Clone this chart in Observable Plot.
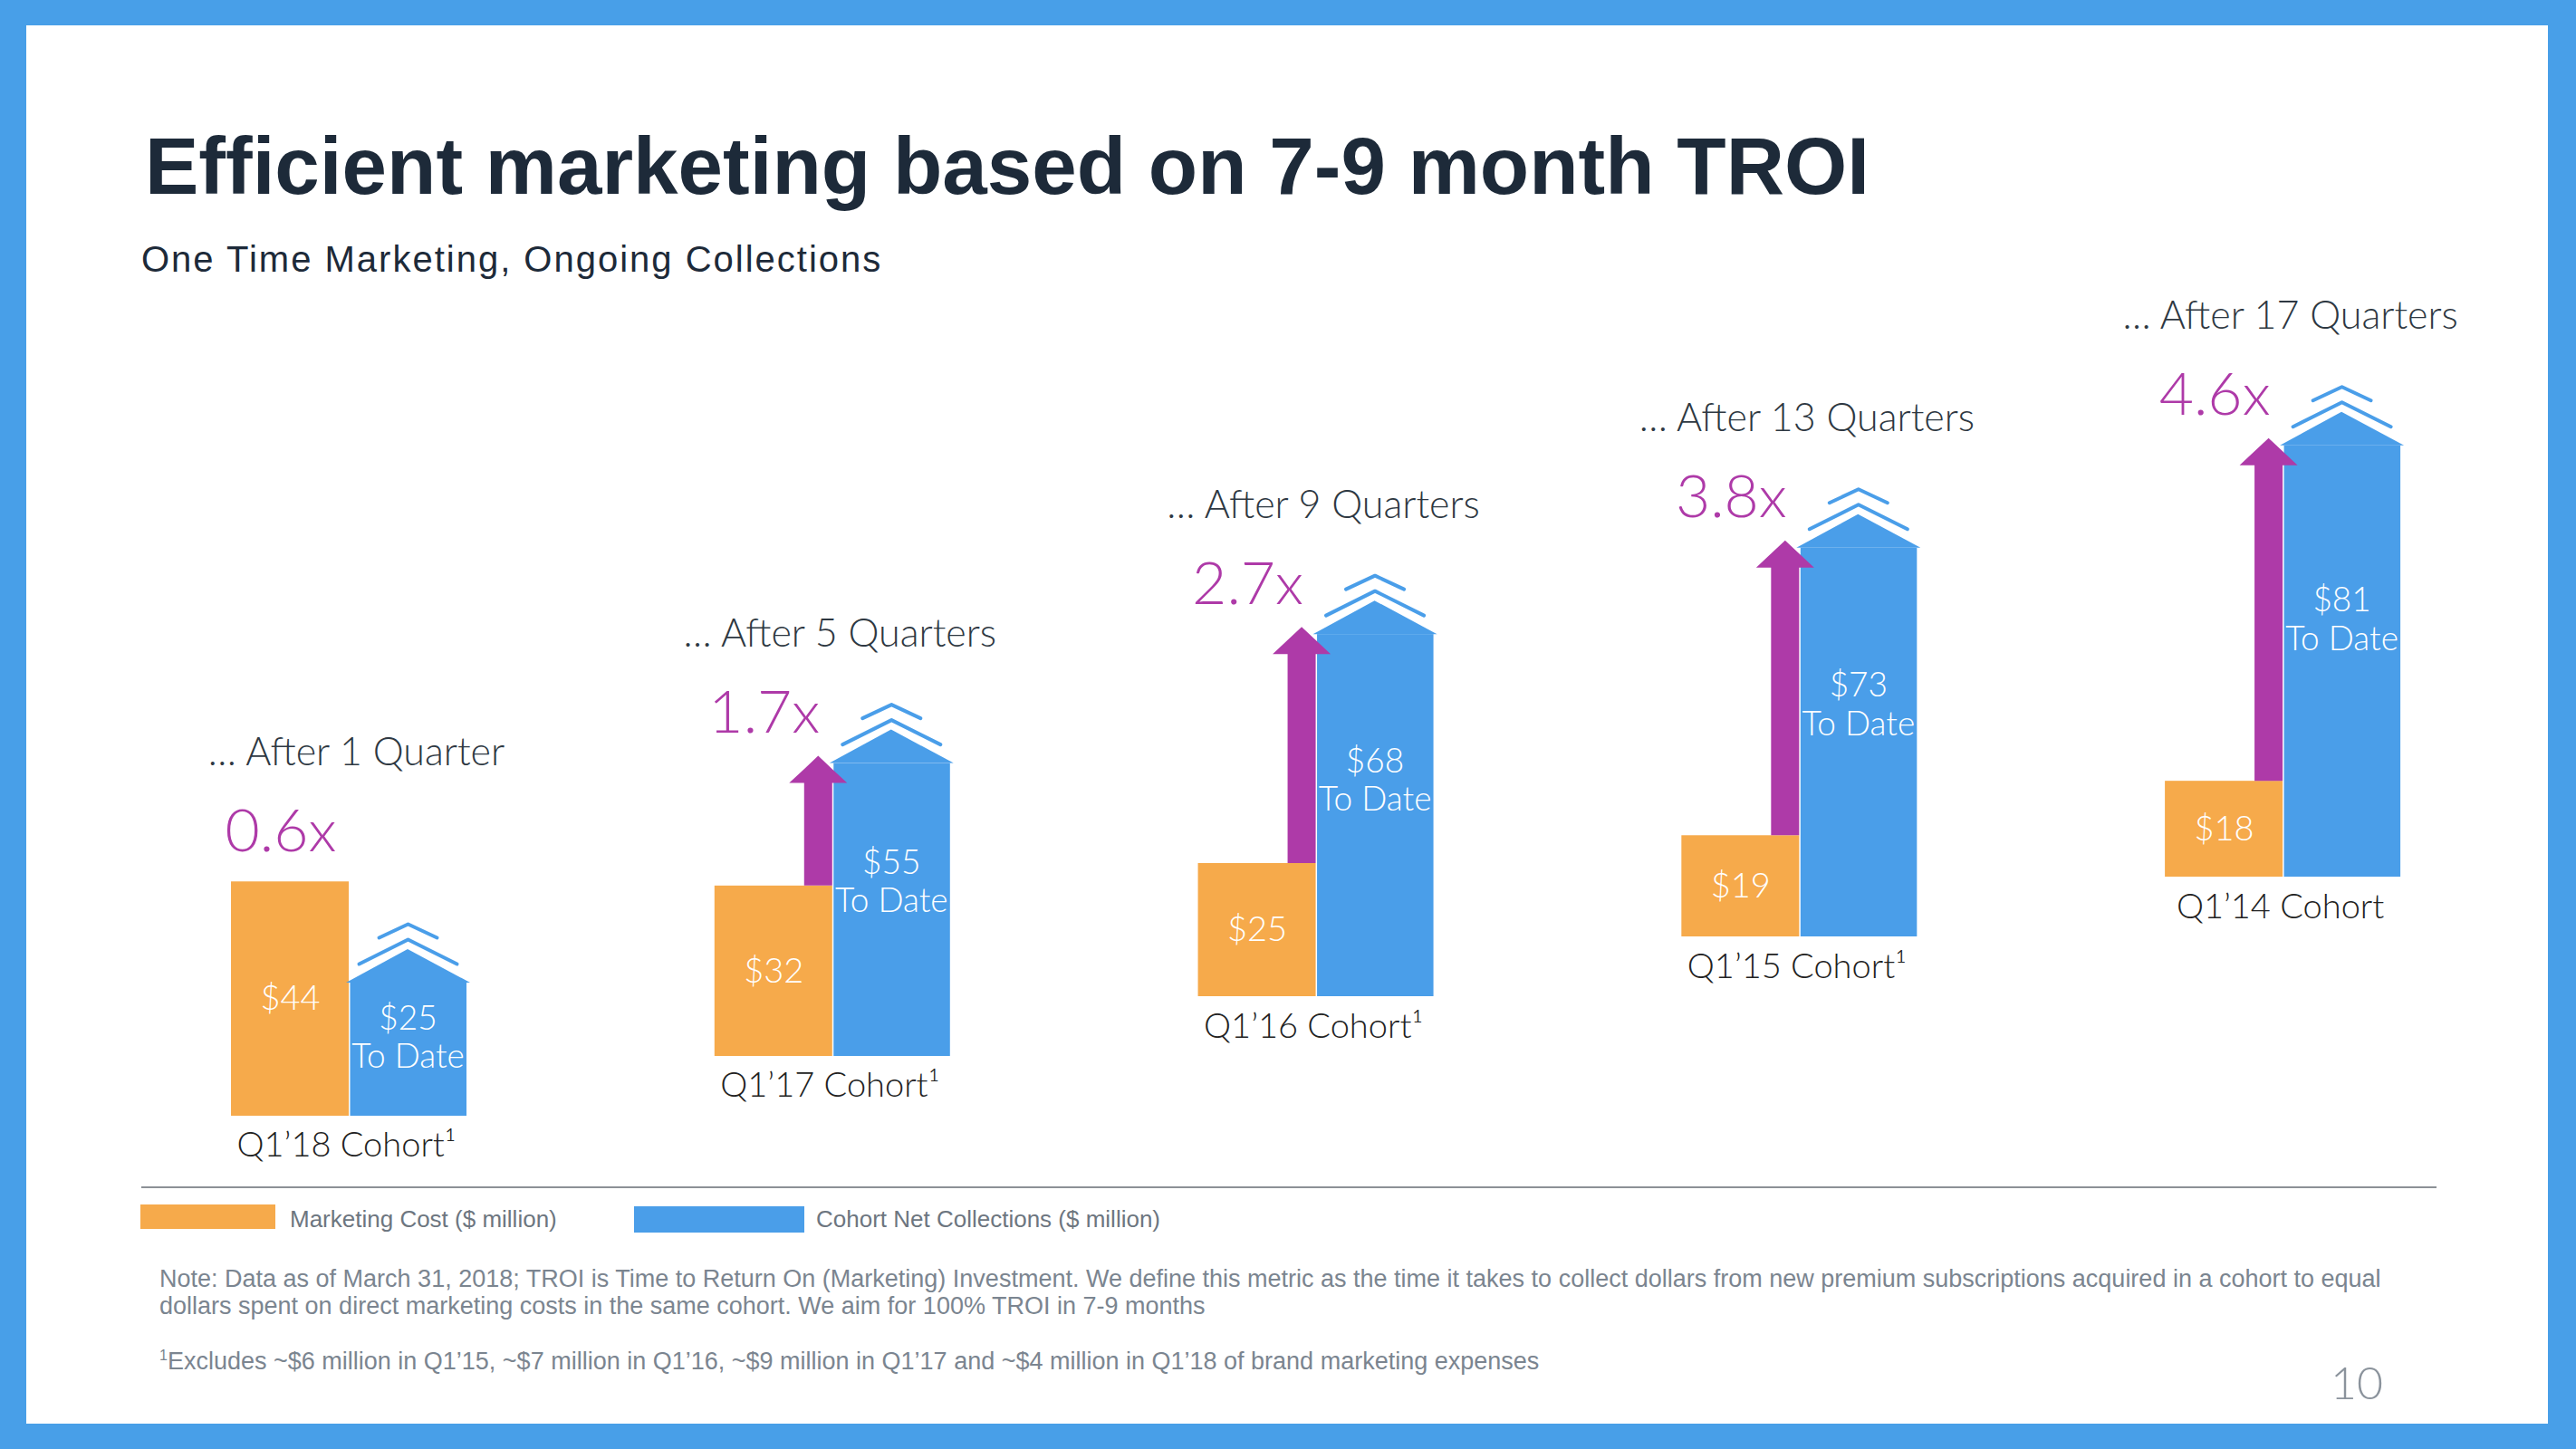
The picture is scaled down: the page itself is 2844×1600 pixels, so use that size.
<!DOCTYPE html>
<html>
<head>
<meta charset="utf-8">
<script src="https://cdn.jsdelivr.net/npm/d3@7"></script>
<script src="https://cdn.jsdelivr.net/npm/@observablehq/plot@0.6"></script>
<style>
  html, body { margin: 0; padding: 0; }
  body { width: 2844px; height: 1600px; background: #489fe8; position: relative; overflow: hidden; font-family: "Liberation Sans", Arial, sans-serif; }
  #panel { position: absolute; left: 29px; top: 28px; width: 2784px; height: 1544px; background: #ffffff; }
  .abs { position: absolute; white-space: nowrap; line-height: 1; }
  #title { left: 131px; top: 111px; font-size: 89px; font-weight: 700; color: #1d2a39; }
  #subtitle { left: 127px; top: 238px; font-size: 40px; letter-spacing: 2.0px; color: #1d2a39; }
  #chart { position: absolute; left: 0; top: 282px; }
  #divider { position: absolute; left: 127px; top: 1282px; width: 2534px; height: 2px; background: #8c9096; }
  .swatch { position: absolute; }
  .legtext { font-size: 26px; color: #6d7680; }
  .note { font-size: 27px; color: #7b8590; }
  #page { left: 2544px; top: 1473px; font-size: 50px; color: #8b939c; font-family: Lato, Roboto, sans-serif; font-weight: 300; }
</style>
</head>
<body>
<div id="panel">
  <div id="title" class="abs">Efficient marketing based on 7-9 month TROI</div>
  <div id="subtitle" class="abs">One Time Marketing, Ongoing Collections</div>
  <div id="chart"></div>
  <div id="divider"></div>
  <div class="swatch" style="left:126px;top:1302px;width:149px;height:27px;background:#f6aa4b"></div>
  <div class="abs legtext" style="left:291px;top:1305px">Marketing Cost ($ million)</div>
  <div class="swatch" style="left:671px;top:1304px;width:188px;height:29px;background:#4a9ee9"></div>
  <div class="abs legtext" style="left:872px;top:1305px">Cohort Net Collections ($ million)</div>
  <div class="abs note" style="left:147px;top:1371px">Note: Data as of March 31, 2018; TROI is Time to Return On (Marketing) Investment. We define this metric as the time it takes to collect dollars from new premium subscriptions acquired in a cohort to equal</div>
  <div class="abs note" style="left:147px;top:1401px">dollars spent on direct marketing costs in the same cohort. We aim for 100% TROI in 7-9 months</div>
  <div class="abs note" style="left:147px;top:1461px"><sup style="font-size:16px">1</sup>Excludes ~$6 million in Q1’15, ~$7 million in Q1’16, ~$9 million in Q1’17 and ~$4 million in Q1’18 of brand marketing expenses</div>
  <div id="page" class="abs">10</div>
</div>
<script>
// ---- Data ----
const cohorts = ["Q1’18 Cohort", "Q1’17 Cohort", "Q1’16 Cohort", "Q1’15 Cohort", "Q1’14 Cohort"];
const footnoted = [true, true, true, true, false];
const quartersAfter = [1, 5, 9, 13, 17];
const marketingCost = [44, 32, 25, 19, 18];
const netCollections = [25, 55, 68, 73, 81];
const troiMultiple = [0.6, 1.7, 2.7, 3.8, 4.6];

// ---- Styles / layout ----
const ORANGE = "#f6aa4b", BLUE = "#4a9ee9", PURPLE = "#ae3aa8";
const W = 2784, H = 990;
const xDomain = [-1.668, 19.195];     // quarters
const yDomain = [-11.565, 156.8];     // $ million
const pxX = W / (xDomain[1] - xDomain[0]);
const pxY = H / (yDomain[1] - yDomain[0]);
const ux = px => px / pxX, uy = px => px / pxY;
const barW = ux(130);
const stagger = 2.806; // staircase lift per quarter (layout)

const rows = cohorts.map((c, i) => {
  const q = quartersAfter[i];
  const base = (q - quartersAfter[0]) * stagger;
  return {
    cohort: c, label: c + (footnoted[i] ? "¹" : ""), q, base,
    cost: marketingCost[i], coll: netCollections[i], mult: troiMultiple[i],
    costTop: base + marketingCost[i], collTop: base + netCollections[i]
  };
});
const topOf = d => Math.max(d.costTop, d.collTop);

const roof = rows.flatMap(d => [
  {cohort: d.cohort, x: d.q - ux(3), y1: d.collTop, y2: d.collTop},
  {cohort: d.cohort, x: d.q + barW / 2, y1: d.collTop, y2: d.collTop + uy(37)},
  {cohort: d.cohort, x: d.q + barW + ux(4), y1: d.collTop, y2: d.collTop}
]);

const chevrons = rows.flatMap(d => {
  const cx = d.q + barW / 2;
  return [[54, 48, 27], [32, 65, 15]].flatMap(([hw, peak, rise], k) => [
    {key: d.cohort + k, x: cx - ux(hw), y: d.collTop + uy(peak - rise)},
    {key: d.cohort + k, x: cx, y: d.collTop + uy(peak)},
    {key: d.cohort + k, x: cx + ux(hw), y: d.collTop + uy(peak - rise)}
  ]);
});

const arrows = rows.filter(d => d.coll > d.cost).flatMap(d => {
  const sw = ux(31), hw = ux(32), hh = uy(30);
  const c = d.q - sw / 2;
  const tip = d.collTop + uy(8);
  const hb = tip - hh;
  const edge = hb + hh * (hw - sw / 2) / hw;
  return [
    {x: c - hw, y1: hb, y2: hb},
    {x: d.q - sw, y1: hb, y2: edge},
    {x: d.q - sw, y1: d.costTop, y2: edge},
    {x: c, y1: d.costTop, y2: tip},
    {x: d.q, y1: d.costTop, y2: edge},
    {x: d.q, y1: hb, y2: edge},
    {x: c + hw, y1: hb, y2: hb}
  ].map(p => ({...p, cohort: d.cohort}));
});

const LIGHT = "Lato, Roboto, 'Liberation Sans', sans-serif";

const chart = Plot.plot({
  width: W, height: H,
  margin: 0,
  x: {domain: xDomain, axis: null},
  y: {domain: yDomain, axis: null},
  style: {fontFamily: LIGHT, overflow: "visible", background: "transparent"},
  marks: [
    Plot.rect(rows, {x1: d => d.q - barW, x2: d => d.q, y1: "base", y2: "costTop", fill: ORANGE}),
    Plot.rect(rows, {x1: d => d.q + ux(1.5), x2: d => d.q + barW, y1: "base", y2: "collTop", fill: BLUE}),
    Plot.areaY(roof, {x: "x", y1: "y1", y2: "y2", z: "cohort", fill: BLUE}),
    Plot.line(chevrons, {x: "x", y: "y", z: "key", stroke: BLUE, strokeWidth: 4}),
    Plot.areaY(arrows, {x: "x", y1: "y1", y2: "y2", z: "cohort", fill: PURPLE}),
    Plot.text(rows, {x: d => d.q - barW / 2, y: d => d.base + d.cost / 2, text: d => "$" + d.cost,
      fill: "white", fontSize: 38, fontWeight: 300, lineAnchor: "middle"}),
    Plot.text(rows, {x: d => d.q + barW / 2, y: d => d.base + d.coll * 0.6,
      text: d => `$${d.coll}\nTo Date`, fill: "white", fontSize: 37, fontWeight: 300, lineHeight: 1.15, lineAnchor: "middle"}),
    Plot.text(rows, {x: d => d.q - ux(14), y: d => topOf(d) + uy(34), text: d => d.mult.toFixed(1) + "x",
      textAnchor: "end", lineAnchor: "bottom", fill: PURPLE, fontSize: 66, fontWeight: 300}),
    Plot.text(rows, {x: d => d.q + ux(8), y: d => topOf(d) + uy(129),
      text: d => `… After ${d.q} Quarter${d.q > 1 ? "s" : ""}`,
      lineAnchor: "bottom", fill: "#2e3842", fontSize: 43, fontWeight: 300}),
    Plot.text(rows, {x: d => d.q - ux(3), y: d => d.base - uy(45), text: "label",
      lineAnchor: "bottom", fill: "#222222", fontSize: 38, fontWeight: 300})
  ]
});
document.getElementById("chart").appendChild(chart);
</script>
</body>
</html>
